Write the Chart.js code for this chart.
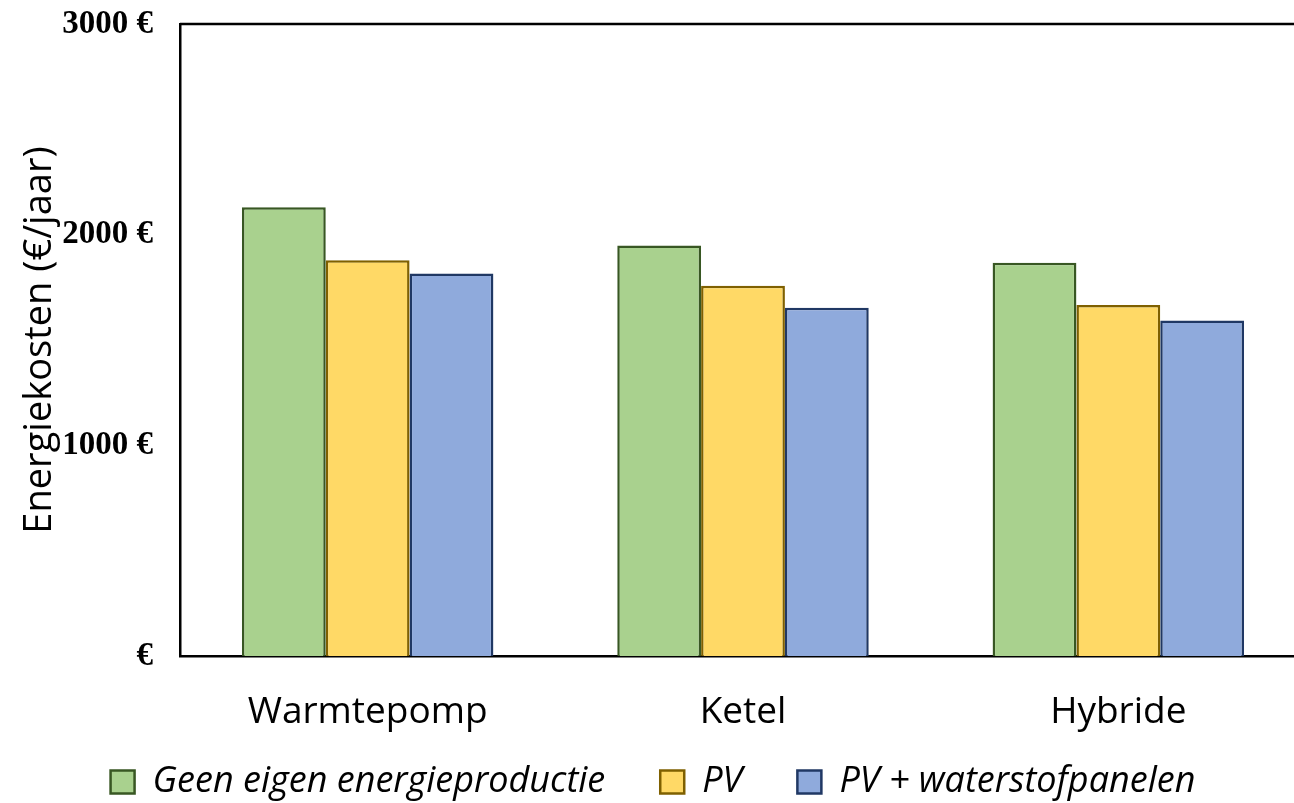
<!DOCTYPE html>
<html>
<head>
<meta charset="utf-8">
<script src="https://cdn.jsdelivr.net/npm/chart.js@4/dist/chart.umd.min.js"></script>
<style>
  html, body { margin: 0; padding: 0; background: #fff; overflow: hidden; }
  #wrap { position: relative; width: 1320px; height: 803px; }
</style>
</head>
<body>
<div id="wrap"><canvas id="c"></canvas></div>
<script>
// Annual energy cost per heating system, by own-production scenario
const categories = ['Warmtepomp', 'Ketel', 'Hybride'];
const seriesNames = ['Geen eigen energieproductie', 'PV', 'PV + waterstofpanelen'];
const geenEigen = [2130, 1948, 1867];
const pv = [1878, 1758, 1666];
const pvWaterstof = [1816, 1653, 1593];
const yTicks = [0, 1000, 2000, 3000];

const fills = ['#A9D18E', '#FFD966', '#8FAADC'];
const borders = ['#385723', '#7F6000', '#203864'];
const values = [geenEigen, pv, pvWaterstof];

// frame line along the top and right of the plot area
const frame = {
  id: 'frame',
  afterDraw(chart) {
    const { ctx, chartArea: a } = chart;
    ctx.save();
    ctx.strokeStyle = '#000';
    ctx.lineWidth = 2.5;
    ctx.beginPath();
    ctx.moveTo(a.left, a.top);
    ctx.lineTo(a.right, a.top);
    ctx.lineTo(a.right, a.bottom);
    ctx.stroke();
    ctx.restore();
  }
};

new Chart(document.getElementById('c'), {
  type: 'bar',
  data: {
    labels: categories,
    datasets: seriesNames.map((name, i) => ({
      label: name,
      data: values[i],
      backgroundColor: fills[i],
      borderColor: borders[i],
      borderWidth: 2.5,
      categoryPercentage: 0.67,
      barPercentage: 1.0
    }))
  },
  options: {
    responsive: true,
    maintainAspectRatio: false,
    animation: false,
    devicePixelRatio: 1,
    layout: { padding: { left: 0, right: 14, top: 0, bottom: -7 } },
    plugins: {
      tooltip: { enabled: false },
      legend: {
        position: 'bottom',
        labels: {
          color: '#000',
          font: { family: 'Open Sans', size: 36, style: 'italic' },
          boxWidth: 24,
          boxHeight: 23,
          padding: 31,
          // a little trailing space after the first two entries widens the gap between items
          generateLabels(chart) {
            const items = Chart.defaults.plugins.legend.labels.generateLabels(chart);
            return items.map((it, i) => (i < items.length - 1 ? { ...it, text: it.text + '\u2002\u2009' } : it));
          }
        }
      }
    },
    scales: {
      x: {
        grid: { display: false, drawTicks: false },
        border: { display: true, color: '#000', width: 2.5 },
        ticks: {
          color: '#000',
          padding: 34,
          font: { family: 'Open Sans', size: 37 }
        },
        afterFit(s) { s.height = 77; }
      },
      y: {
        min: 0,
        max: 3000,
        afterBuildTicks(s) { s.ticks = yTicks.map(v => ({ value: v })); },
        grid: { display: false, drawTicks: false },
        border: { display: true, color: '#000', width: 2.5 },
        ticks: {
          color: '#000',
          padding: 27,
          font: { family: 'Liberation Serif', size: 33, weight: 'bold' },
          callback: v => (v === 0 ? '€' : v + ' €')
        },
        title: {
          display: true,
          text: 'Energiekosten (€/jaar)',
          color: '#000',
          font: { family: 'Open Sans', size: 38 },
          padding: { top: 17, bottom: 0 }
        },
        afterFit(s) {
          s.width = 180;
          s.paddingTop = 24;
          s.paddingBottom = 0;
        }
      }
    }
  },
  plugins: [frame]
});
</script>
</body>
</html>
